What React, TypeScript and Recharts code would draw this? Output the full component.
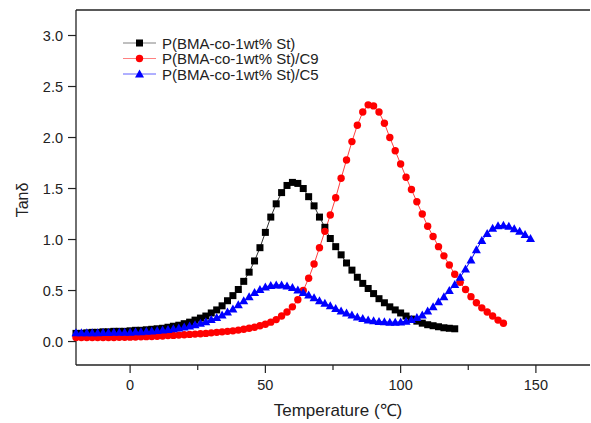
import React from 'react';
import { LineChart, Line, XAxis, YAxis, ReferenceLine } from 'recharts';

// temperature grid (°C) shared by all three DMA runs
const temps = [
  -20, -18, -16, -14, -12, -10, -8, -6, -4, -2,
  0, 2, 4, 6, 8, 10, 12, 14, 16, 18,
  20, 22, 24, 26, 28, 30, 32, 34, 36, 38,
  40, 42, 44, 46, 48, 50, 52, 54, 56, 58,
  60, 62, 64, 66, 68, 70, 72, 74, 76, 78,
  80, 82, 84, 86, 88, 90, 92, 94, 96, 98,
  100, 102, 104, 106, 108, 110, 112, 114, 116, 118,
  120, 122, 124, 126, 128, 130, 132, 134, 136, 138,
  140, 142, 144, 146, 148,
];

// P(BMA-co-1wt% St), -20 .. 120
const tanBlack = [
  0.08, 0.08, 0.085, 0.09, 0.09, 0.095, 0.095, 0.1, 0.1, 0.1,
  0.105, 0.11, 0.11, 0.115, 0.12, 0.125, 0.13, 0.14, 0.15, 0.16,
  0.175, 0.19, 0.21, 0.23, 0.25, 0.28, 0.31, 0.35, 0.4, 0.45,
  0.51, 0.59, 0.68, 0.79, 0.92, 1.07, 1.22, 1.35, 1.46, 1.53,
  1.56, 1.55, 1.5, 1.42, 1.33, 1.22, 1.12, 1.01, 0.93, 0.85,
  0.77, 0.7, 0.63, 0.57, 0.52, 0.47, 0.42, 0.38, 0.34, 0.31,
  0.28, 0.25, 0.22, 0.2, 0.18, 0.165, 0.155, 0.145, 0.135, 0.13,
  0.125,
];

// P(BMA-co-1wt% St)/C9, -20 .. 138
const tanRed = [
  0.04, 0.04, 0.04, 0.04, 0.04, 0.04, 0.04, 0.04, 0.042, 0.042,
  0.043, 0.045, 0.046, 0.048, 0.05, 0.052, 0.055, 0.058, 0.06, 0.063,
  0.066, 0.07, 0.073, 0.077, 0.08, 0.085, 0.09, 0.095, 0.1, 0.105,
  0.112, 0.12, 0.13, 0.14, 0.155, 0.17, 0.19, 0.215, 0.25, 0.29,
  0.34, 0.41, 0.5, 0.62, 0.76, 0.92, 1.08, 1.24, 1.41, 1.6,
  1.78, 1.96, 2.12, 2.25, 2.32, 2.31, 2.25, 2.14, 2.0, 1.87,
  1.74, 1.61, 1.49, 1.37, 1.25, 1.13, 1.03, 0.93, 0.84, 0.75,
  0.66, 0.58, 0.51, 0.44, 0.38, 0.33, 0.29, 0.25, 0.21, 0.18,
];

// P(BMA-co-1wt% St)/C5, -20 .. 148
const tanBlue = [
  0.085, 0.085, 0.085, 0.085, 0.085, 0.088, 0.088, 0.09, 0.09, 0.09,
  0.092, 0.095, 0.097, 0.1, 0.103, 0.107, 0.112, 0.118, 0.125, 0.133,
  0.142, 0.152, 0.165, 0.18, 0.195, 0.215, 0.235, 0.26, 0.29, 0.32,
  0.36, 0.4, 0.44, 0.48, 0.51, 0.535, 0.55, 0.555, 0.555, 0.545,
  0.53, 0.505, 0.48, 0.455, 0.43, 0.4, 0.375, 0.35, 0.325, 0.3,
  0.28, 0.26, 0.24, 0.225, 0.212, 0.203, 0.197, 0.193, 0.19, 0.19,
  0.192, 0.2, 0.215, 0.235, 0.26, 0.3, 0.34, 0.39, 0.44, 0.5,
  0.56, 0.63, 0.71, 0.8, 0.9, 0.99, 1.06, 1.11, 1.135, 1.14,
  1.13, 1.105, 1.08, 1.05, 1.01,
];

const seriesNames = ['P(BMA-co-1wt% St)', 'P(BMA-co-1wt% St)/C9', 'P(BMA-co-1wt% St)/C5'];
const xTicks = [0, 25, 50, 75, 100, 125, 150];
const yTicks = [0, 0.5, 1, 1.5, 2, 2.5, 3];

const FONT = 'Arial, "Liberation Sans", sans-serif';
const AXIS = '#222';

const toPoints = (vals: number[]) => vals.map((v, i) => ({ t: temps[i], v }));

const Square = (p: any) => {
  if (p.cx == null || p.cy == null) return <g key={p.index} />;
  return <rect key={p.index} x={p.cx - 3.5} y={p.cy - 3.5} width={7} height={7} fill="#000" />;
};
const Dot = (p: any) => {
  if (p.cx == null || p.cy == null) return <g key={p.index} />;
  return <circle key={p.index} cx={p.cx} cy={p.cy} r={3.7} fill="#ff0000" />;
};
const Tri = (p: any) => {
  if (p.cx == null || p.cy == null) return <g key={p.index} />;
  const { cx, cy } = p;
  return (
    <polygon
      key={p.index}
      points={`${cx},${cy - 4.5} ${cx - 4.5},${cy + 3.5} ${cx + 4.5},${cy + 3.5}`}
      fill="#0000ff"
    />
  );
};

const XTick = (props: any) => {
  const { x, y, payload } = props;
  const major = payload.value % 50 === 0;
  return (
    <g>
      <line x1={x} y1={y} x2={x} y2={y + (major ? 8 : 5)} stroke={AXIS} strokeWidth={1.2} />
      {major && (
        <text x={x} y={y + 20} textAnchor="middle" dominantBaseline="central" fontSize={14.5} fill="#222" fontFamily={FONT}>
          {payload.value}
        </text>
      )}
    </g>
  );
};

const YTick = (props: any) => {
  const { x, y, payload } = props;
  return (
    <g>
      <line x1={x - 8} y1={y} x2={x} y2={y} stroke={AXIS} strokeWidth={1.2} />
      <text x={x - 13} y={y} textAnchor="end" dominantBaseline="central" fontSize={14.5} fill="#222" fontFamily={FONT}>
        {payload.value.toFixed(1)}
      </text>
    </g>
  );
};

const legendRows = [
  { name: seriesNames[0], line: '#808080', kind: 'square' },
  { name: seriesNames[1], line: '#ff8080', kind: 'circle' },
  { name: seriesNames[2], line: '#6060ff', kind: 'tri' },
];

export default function App() {
  return (
    <div style={{ position: 'absolute', left: 0, top: 0, width: 591, height: 423, background: '#fff' }}>
      <LineChart width={591} height={423} margin={{ top: 10, right: 1, bottom: 0, left: 0 }}>
        <XAxis
          type="number"
          dataKey="t"
          domain={[-20, 170]}
          ticks={xTicks}
          tick={<XTick />}
          tickLine={false}
          tickSize={0}
          tickMargin={0}
          height={58}
          axisLine={{ stroke: AXIS, strokeWidth: 1.3 }}
          allowDuplicatedCategory={false}
        />
        <YAxis
          type="number"
          dataKey="v"
          domain={[-0.23, 3.25]}
          ticks={yTicks}
          tick={<YTick />}
          tickLine={false}
          tickSize={0}
          tickMargin={0}
          width={76}
          axisLine={{ stroke: AXIS, strokeWidth: 1.3 }}
        />
        <ReferenceLine y={3.25} stroke={AXIS} strokeWidth={1.3} />
        <Line data={toPoints(tanBlack)} dataKey="v" stroke="#333" strokeWidth={1} dot={Square} isAnimationActive={false} />
        <Line data={toPoints(tanRed)} dataKey="v" stroke="#ff4040" strokeWidth={1} dot={Dot} isAnimationActive={false} />
        <Line data={toPoints(tanBlue)} dataKey="v" stroke="#0000ff" strokeWidth={1} dot={Tri} isAnimationActive={false} />
      </LineChart>
      <svg width={591} height={423} style={{ position: 'absolute', left: 0, top: 0, pointerEvents: 'none' }}>
        {legendRows.map((r, i) => {
          const y = 43 + i * 15.5;
          return (
            <g key={r.name}>
              <line x1={123} y1={y} x2={156} y2={y} stroke={r.line} strokeWidth={1} />
              {r.kind === 'square' && <rect x={136} y={y - 3.5} width={7} height={7} fill="#000" />}
              {r.kind === 'circle' && <circle cx={139.5} cy={y} r={3.7} fill="#ff0000" />}
              {r.kind === 'tri' && (
                <polygon points={`139.5,${y - 4.5} 135,${y + 3.5} 144,${y + 3.5}`} fill="#0000ff" />
              )}
              <text x={162} y={y} dominantBaseline="central" fontSize={15} fill="#222" fontFamily={FONT}>
                {r.name}
              </text>
            </g>
          );
        })}
        <text
          transform="translate(22,200) rotate(-90)"
          textAnchor="middle"
          dominantBaseline="central"
          fontSize={16}
          fill="#222"
          fontFamily={FONT}
        >
          Tanδ
        </text>
        <text x={338} y={410} textAnchor="middle" dominantBaseline="central" fontSize={17} fill="#222" fontFamily={FONT}>
          Temperature (℃)
        </text>
      </svg>
    </div>
  );
}
